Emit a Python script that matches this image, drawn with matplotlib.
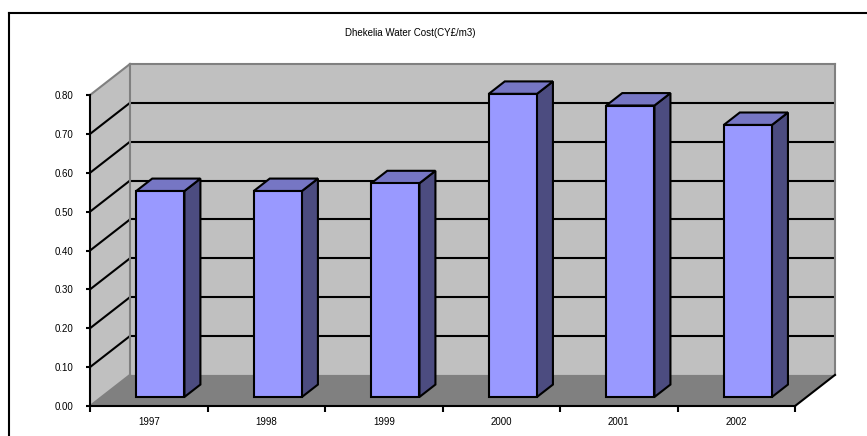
import numpy as np
import matplotlib
matplotlib.use("Agg")
import matplotlib.pyplot as plt
from matplotlib.lines import Line2D
from matplotlib.patches import Polygon

plt.rcParams["font.family"] = ["Liberation Sans", "DejaVu Sans"]

title = "Dhekelia Water Cost(CY£/m3)"
years = ["1997", "1998", "1999", "2000", "2001", "2002"]
cost = [0.53, 0.53, 0.55, 0.78, 0.75, 0.70]
y_ticks = [0.0, 0.1, 0.2, 0.3, 0.4, 0.5, 0.6, 0.7, 0.8]

# oblique projection: shift of the back plane, in data units
DX, DY = 0.34, 0.08
BAR_W = 0.41
BAR_FRONT = 0.29   # bar front face, as fraction of floor depth
BAR_DEPTH = 0.40

FRONT_C = "#9999ff"
TOP_C = "#7676c4"
SIDE_C = "#4c4c80"
WALL_C = "#c0c0c0"
FLOOR_C = "#808080"
EDGE_C = "#808080"

W, H = 867, 436
fig = plt.figure(figsize=(W / 100, H / 100), dpi=100)
ax = fig.add_axes([90 / W, 30 / H, 745 / W, 342 / H])

n = len(years)
ymax = y_ticks[-1]
ax.set_xlim(0, n + DX)
ax.set_ylim(0, ymax + DY)

# walls and floor
left_wall = Polygon([(0, 0), (0, ymax), (DX, ymax + DY), (DX, DY)],
                    closed=True, facecolor=WALL_C, edgecolor="none", zorder=1)
back_wall = Polygon([(DX, DY), (n + DX, DY), (n + DX, ymax + DY), (DX, ymax + DY)],
                    closed=True, facecolor=WALL_C, edgecolor="none", zorder=1)
floor = Polygon([(0, 0), (n, 0), (n + DX, DY), (DX, DY)],
                closed=True, facecolor=FLOOR_C, edgecolor="none", zorder=1)
for p in (left_wall, back_wall, floor):
    ax.add_patch(p)

# gridlines on back wall and left wall
for v in y_ticks[1:-1]:
    ax.plot([DX, n + DX], [v + DY, v + DY], color="black", lw=1.5, zorder=2)
    ax.plot([0, DX], [v, v + DY], color="black", lw=1.5, zorder=2)

# wall edges
edges = [
    ([0, DX], [ymax, ymax + DY]),
    ([DX, n + DX], [ymax + DY, ymax + DY]),
    ([DX, DX], [DY, ymax + DY]),
    ([n + DX, n + DX], [DY, ymax + DY]),
    ([0, DX], [0, DY]),
]
for xs, ys in edges:
    ax.plot(xs, ys, color=EDGE_C, lw=1.5, zorder=2, clip_on=False)
ax.plot([n, n + DX], [0, DY], color="black", lw=1.5, zorder=2, clip_on=False)

# bars
x = np.arange(n) + 0.5 + BAR_FRONT * DX
base = BAR_FRONT * DY
bdx, bdy = BAR_DEPTH * DX, BAR_DEPTH * DY
ax.bar(x, cost, width=BAR_W, bottom=base, color=FRONT_C,
       edgecolor="black", linewidth=1.5, zorder=4)
for xc, v in zip(x, cost):
    xl, xr = xc - BAR_W / 2, xc + BAR_W / 2
    top = base + v
    side = Polygon([(xr, base), (xr + bdx, base + bdy), (xr + bdx, top + bdy), (xr, top)],
                   closed=True, facecolor=SIDE_C, edgecolor="black", lw=1.5, zorder=3)
    cap = Polygon([(xl, top), (xr, top), (xr + bdx, top + bdy), (xl + bdx, top + bdy)],
                  closed=True, facecolor=TOP_C, edgecolor="black", lw=1.5, zorder=3)
    ax.add_patch(side)
    ax.add_patch(cap)

# axes
for s in ("top", "right"):
    ax.spines[s].set_visible(False)
ax.spines["left"].set_bounds(0, ymax)
ax.spines["bottom"].set_bounds(0, n)
for s in ("left", "bottom"):
    ax.spines[s].set_linewidth(1.5)
    ax.spines[s].set_zorder(5)

ax.set_yticks(y_ticks)
ax.set_yticklabels([f"{v:.2f}" for v in y_ticks], fontsize=7)
ax.tick_params(axis="y", direction="out", length=3, width=1.5, pad=9)

ax.set_xticks(np.arange(n + 1))
ax.set_xticklabels([])
ax.set_xticks(np.arange(n) + 0.5, minor=True)
ax.set_xticklabels(years, minor=True, fontsize=7)
ax.tick_params(axis="x", which="major", direction="out", length=4, width=1.5)
ax.tick_params(axis="x", which="minor", length=0, pad=8)

fig.text(410 / W, 1 - 33 / H, title, fontsize=7, ha="center", va="center")

# chart frame
fig.add_artist(Line2D([9 / W, 9 / W], [0, 1 - 13 / H], color="black", lw=1.5,
                      transform=fig.transFigure))
fig.add_artist(Line2D([9 / W, 1], [1 - 13 / H, 1 - 13 / H], color="black", lw=1.5,
                      transform=fig.transFigure))

fig.savefig("out.png", dpi=100)
